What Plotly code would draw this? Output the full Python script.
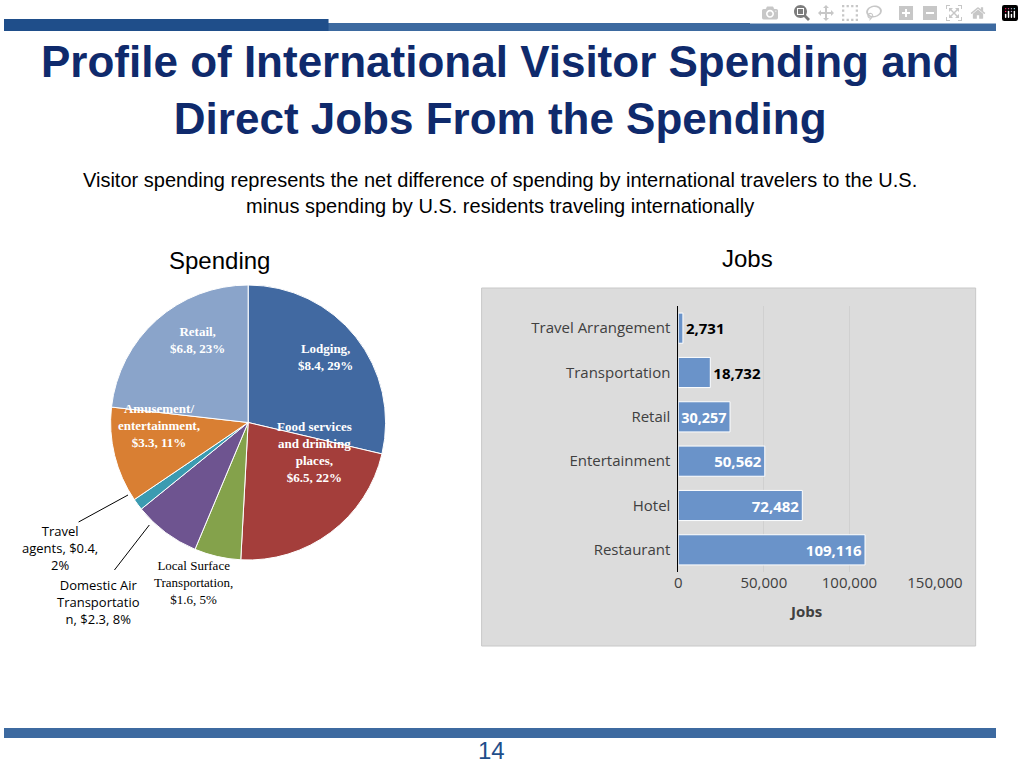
import plotly.graph_objects as go

pie_labels = ["Lodging", "Food services and drinking places", "Local Surface Transportation",
              "Domestic Air Transportation", "Travel agents", "Amusement/ entertainment", "Retail"]
pie_values = [8.4, 6.5, 1.6, 2.3, 0.4, 3.3, 6.8]
pie_pct = [29, 22, 5, 8, 2, 11, 23]
pie_colors = ["#4169a1", "#a43e3b", "#84a24b", "#6e5490", "#3b9bb1", "#d97f33", "#8aa4ca"]

job_cats = ["Restaurant", "Hotel", "Entertainment", "Retail", "Transportation", "Travel Arrangement"]
job_vals = [109116, 72482, 50562, 30257, 18732, 2731]
x_ticks = [0, 50000, 100000, 150000]

W, H = 1024, 768
def px(x): return x / W
def py(y): return 1 - y / H

fig = go.Figure()
fig.add_trace(go.Pie(
    labels=pie_labels, values=pie_values, sort=False, direction="clockwise", rotation=0,
    marker=dict(colors=pie_colors, line=dict(color="white", width=1)),
    textinfo="none", hoverinfo="label+value", showlegend=False,
    domain=dict(x=[px(107), px(397)], y=[py(560), py(285)])))

fig.add_trace(go.Bar(
    y=job_cats, x=job_vals, orientation="h", marker_color="#6a93c9",
    marker_line=dict(color="white", width=1),
    text=[f"<b>{v:,}</b>" for v in job_vals],
    textposition=["inside", "inside", "inside", "inside", "outside", "outside"],
    insidetextanchor="end",
    textfont=dict(family="Open Sans", size=15, color="white"),
    outsidetextfont=dict(family="Open Sans", size=15, color="black"),
    width=0.68, showlegend=False, cliponaxis=False))

fig.update_layout(
    width=W, height=H, margin=dict(l=0, r=0, t=0, b=0), autosize=False,
    paper_bgcolor="white", plot_bgcolor="rgba(0,0,0,0)",
    xaxis=dict(domain=[px(696), px(961)], range=[0, 150000], tickvals=x_ticks,
               tickformat=",", showgrid=True, gridcolor="#d0d0d0", zeroline=False,
               tickfont=dict(family="Open Sans", size=15, color="#404040"),
               title=dict(text="<b>Jobs</b>", font=dict(family="Open Sans", size=15, color="#404040"))),
    yaxis=dict(domain=[py(572), py(306)], showline=True, linecolor="black",
               tickfont=dict(family="Open Sans", size=15, color="#404040"), ticksuffix=" "),
    shapes=[
        dict(type="rect", xref="paper", yref="paper", x0=px(493), x1=px(1003), y0=py(646), y1=py(288),
             fillcolor="#dcdcdc", line=dict(color="#c8c8c8", width=1), layer="below"),
        dict(type="rect", xref="paper", yref="paper", x0=0, x1=1, y0=py(31), y1=py(23),
             fillcolor="#3d6aa0", line_width=0),
        dict(type="rect", xref="paper", yref="paper", x0=0, x1=px(335), y0=py(31), y1=py(19),
             fillcolor="#1f4e8a", line_width=0),
        dict(type="rect", xref="paper", yref="paper", x0=0, x1=1, y0=py(738), y1=py(728),
             fillcolor="#3d6aa0", line_width=0),
        dict(type="line", xref="paper", yref="paper", x0=px(77), x1=px(128), y0=py(522), y1=py(495),
             line=dict(color="black", width=1)),
        dict(type="line", xref="paper", yref="paper", x0=px(114), x1=px(150), y0=py(570), y1=py(525),
             line=dict(color="black", width=1)),
    ])

ann = [
    dict(x=0.5, y=py(90), text="<b>Profile of International Visitor Spending and<br>Direct Jobs From the Spending</b>",
         font=dict(family="Liberation Sans", size=44, color="#0f2a6c")),
    dict(x=0.5, y=py(193), text="Visitor spending represents the net difference of spending by international travelers to the U.S.<br>minus spending by U.S. residents traveling internationally",
         font=dict(family="Liberation Sans", size=20, color="black")),
    dict(x=px(222), y=py(260), text="Spending", font=dict(family="Liberation Sans", size=24, color="black")),
    dict(x=px(767), y=py(259), text="Jobs", font=dict(family="Liberation Sans", size=24, color="black")),
    dict(x=px(503), y=py(750), text="14", font=dict(family="Liberation Sans", size=24, color="#1f4e8a")),
]
pie_ann = [
    (px(332), py(357), f"<b>{pie_labels[0]},<br>${pie_values[0]}, {pie_pct[0]}%</b>", "white"),
    (px(320), py(452), f"<b>Food services<br>and drinking<br>places,<br>${pie_values[1]}, {pie_pct[1]}%</b>", "white"),
    (px(196), py(582), f"Local Surface<br>Transportation,<br>${pie_values[2]}, {pie_pct[2]}%", "black"),
    (px(98), py(602), f"Domestic Air<br>Transportatio<br>n, ${pie_values[3]}, {pie_pct[3]}%", "black"),
    (px(58), py(548), f"Travel<br>agents, ${pie_values[4]},<br>{pie_pct[4]}%", "black"),
    (px(160), py(425), f"<b>Amusement/<br>entertainment,<br>${pie_values[5]}, {pie_pct[5]}%</b>", "white"),
    (px(200), py(340), f"<b>{pie_labels[6]},<br>${pie_values[6]}, {pie_pct[6]}%</b>", "white"),
]
for i, (x, y, t, c) in enumerate(pie_ann):
    fam = "Open Sans" if i in (3, 4) else "Liberation Serif"
    ann.append(dict(x=x, y=y, text=t, font=dict(family=fam, size=13, color=c)))
for a in ann:
    a.update(xref="paper", yref="paper", showarrow=False, xanchor="center", yanchor="middle")
fig.update_layout(annotations=ann)

fig.write_html("out.html", config={"responsive": False})
with open("out.html", "r", encoding="utf-8") as f:
    html = f.read()
html = html.replace("<head>", "<head><style>html,body{margin:0;padding:0;overflow:hidden}</style>", 1)
with open("out.html", "w", encoding="utf-8") as f:
    f.write(html)
